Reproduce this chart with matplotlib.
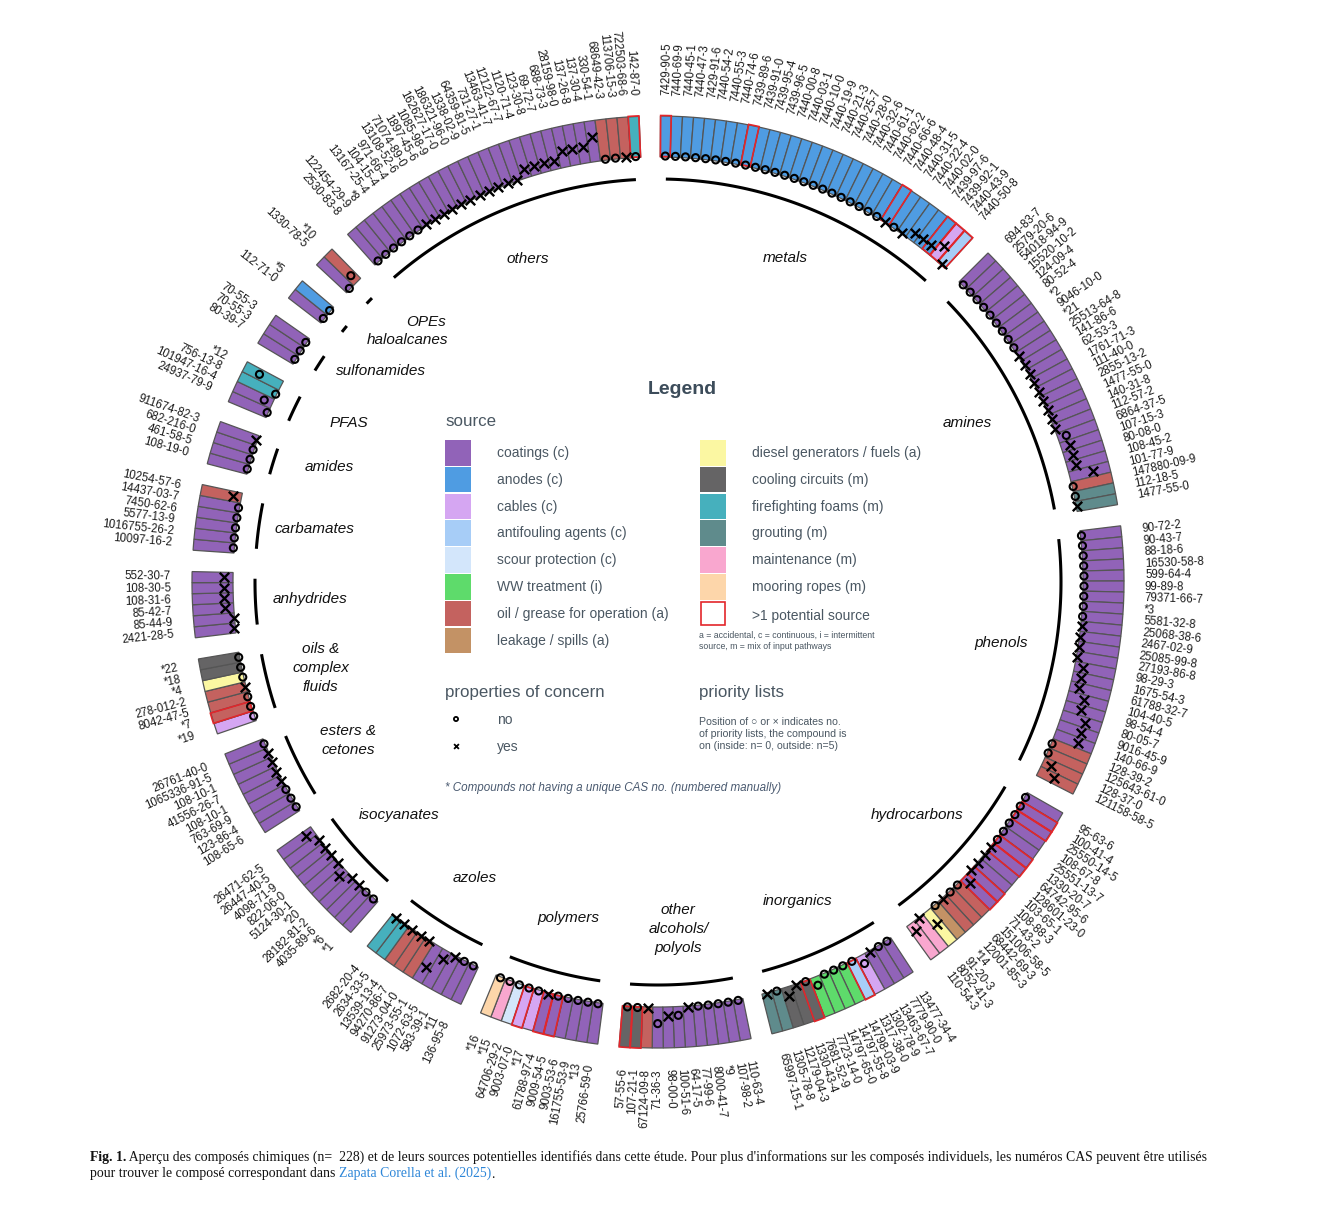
import numpy as np
import matplotlib
matplotlib.use("Agg")
import matplotlib.pyplot as plt
from matplotlib.patches import Rectangle

W, H = 1319, 1207

# ---------------- data (clockwise, starting at the top) ----------------
# source codes: C coatings, A anodes, B cables, F antifouling, S scour protection,
# W WW treatment, O oil/grease, L leakage, D diesel, K cooling circuits,
# P firefighting foams, G grouting, M maintenance, R mooring ropes
# red: 1 = >1 potential source; poc: o = no / x = yes; prio: no. of priority lists

metals_cas = ["7429-90-5", "7440-69-9", "7440-45-1", "7440-47-3", "7429-91-6", "7440-54-2",
              "7440-55-3", "7440-74-6", "7439-89-6", "7439-91-0", "7439-95-4", "7439-96-5",
              "7440-00-8", "7440-03-1", "7440-10-0", "7440-19-9", "7440-21-3", "7440-25-7",
              "7440-28-0", "7440-32-6", "7440-61-1", "7440-62-2", "7440-66-6", "7440-48-4",
              "7440-31-5", "7440-22-4", "7440-02-0", "7439-97-6", "7439-92-1", "7440-43-9",
              "7440-50-8"]
metals_src = "AAAAA AAAAA AAAAA AAAAA AAAAA AAAAB F"
metals_red = "10000 00010 00000 00000 00010 00011 1"
metals_poc = "ooooo ooooo ooooo ooooo oooxo xxxxx x"
metals_prio = "00000 00000 00000 00000 00000 01112 0"

amines_cas = ["694-83-7", "2579-20-6", "54018-94-9", "15520-10-2", "124-09-4", "80-52-4", "*2",
              "9046-10-0", "*21", "25513-64-8", "141-86-6", "62-53-3", "1761-71-3", "111-40-0",
              "2855-13-2", "1477-55-0", "140-31-8", "112-57-2", "6864-37-5", "107-15-3",
              "80-08-0", "108-45-2", "101-77-9", "147880-09-9", "112-18-5", "1477-55-0"]
amines_src = "CCCCC CCCCC CCCCC CCCCC CCCOG G"
amines_red = "00000 00000 00000 00000 00000 0"
amines_poc = "ooooo oooox xxxxx xxxox xxxoo x"
amines_prio = "00000 00000 00000 00011 11300 0"

phenols_cas = ["90-72-2", "90-43-7", "88-18-6", "16530-58-8", "599-64-4", "99-89-8",
               "79371-66-7", "*3", "5581-32-8", "25068-38-6", "2467-02-9", "25085-99-8",
               "27193-86-8", "98-29-3", "1675-54-3", "61788-32-7", "104-40-5", "98-54-4",
               "80-05-7", "9016-45-9", "140-66-9", "128-39-2", "125643-61-0", "128-37-0",
               "121158-58-5"]
phenols_src = "CCCCC CCCCC CCCCC CCCCC COOOO"
phenols_red = "00000 00000 00000 00000 00000"
phenols_poc = "ooooo oooox xxxxx xxxxx xooxx"
phenols_prio = "00000 00000 00011 12233 30012"

hydro_cas = ["95-63-6", "100-41-4", "25550-14-5", "108-67-8", "25551-13-7", "1330-20-7",
             "64742-95-6", "128601-23-0", "103-65-1", "108-88-3", "71-43-2", "151006-58-5",
             "68442-69-3", "12001-85-3", "*14", "91-20-3", "8052-41-3", "110-54-3"]
hydro_src = "CCCCC CCCCC COOOL DMM"
hydro_red = "01100 11001 10000 000"
hydro_poc = "ooooo oxxxx xooxo xxx"
hydro_prio = "00000 00000 10000 201"

inorg_cas = ["13477-34-4", "7779-90-0", "13463-67-7", "1302-78-9", "1317-38-0", "14798-03-9",
             "14797-55-8", "14797-65-0", "7723-14-0", "7681-52-9", "1330-43-4", "12179-04-3",
             "1305-78-8", "65997-15-1"]
inorg_src = "CCCBF WWWWK KKGG"
inorg_red = "00001 00001 0000"
inorg_poc = "ooxoo ooooo xxox"
inorg_prio = "00010 00010 0100"

alc_cas = ["110-63-4", "107-98-2", "*9", "8000-41-7", "77-99-6", "64-17-5", "100-51-6",
           "98-00-0", "71-36-3", "67124-09-8", "107-21-1", "57-55-6"]
alc_src = "CCCCC CCCCO KK"
alc_red = "00000 00000 11"
alc_poc = "ooooo xoxox oo"
alc_prio = "00000 01120 00"

poly_cas = ["25766-59-0", "*13", "161755-53-9", "9003-53-6", "9009-54-5", "61788-97-4", "*17",
            "9003-07-0", "64706-29-2", "*15", "*16"]
poly_src = "CCCCC CBBSM R"
poly_red = "00001 10100 0"
poly_poc = "ooooo xoooo o"
poly_prio = "00000 00000 0"

azole_cas = ["136-95-8", "*11", "583-39-1", "1072-63-5", "25973-55-1", "91273-04-0",
             "94270-86-7", "13539-13-4", "2634-33-5", "2682-20-4"]
azole_src = "CCCCC OOOPP"
azole_red = "00000 00000"
azole_poc = "ooxxx xxxxx"
azole_prio = "00013 00000"

iso_cas = ["*1", "*6", "4035-89-6", "28182-81-2", "*20", "5124-30-1", "822-06-0", "4098-71-9",
           "26447-40-5", "26471-62-5"]
iso_src = "CCCCC CCCCC"
iso_red = "00000 00000"
iso_poc = "ooxxx xxxxx"
iso_prio = "00001 00001"

ester_cas = ["108-65-6", "123-86-4", "763-69-9", "108-10-1", "41556-26-7", "108-10-1",
             "1065336-91-5", "26761-40-0"]
ester_src = "CCCCC CCC"
ester_red = "00000 000"
ester_poc = "oooxx xxo"
ester_prio = "00000 000"

oils_cas = ["*19", "*7", "8042-47-5", "278-012-2", "*4", "*18", "*22"]
oils_src = "BOOOD KK"
oils_red = "01000 00"
oils_poc = "oooxo oo"
oils_prio = "00000 00"

anh_cas = ["2421-28-5", "85-44-9", "85-42-7", "108-31-6", "108-30-5", "552-30-7"]
anh_src = "CCCCC C"
anh_red = "00000 0"
anh_poc = "xxxxx x"
anh_prio = "00111 1"

carb_cas = ["10097-16-2", "1016755-26-2", "5577-13-9", "7450-62-6", "14437-03-7", "10254-57-6"]
carb_src = "CCCCC O"
carb_red = "00000 0"
carb_poc = "ooooo x"
carb_prio = "00000 1"

amide_cas = ["108-19-0", "461-58-5", "682-216-0", "911674-82-3"]
amide_src = "CCCC"
amide_red = "0000"
amide_poc = "ooox"
amide_prio = "0000"

pfas_cas = ["24937-79-9", "101947-16-4", "756-13-8", "*12"]
pfas_src = "CCPP"
pfas_red = "0000"
pfas_poc = "oooo"
pfas_prio = "0103"

sulf_cas = ["80-39-7", "70-55-3", "70-55-3"]
sulf_src = "CCC"
sulf_red = "000"
sulf_poc = "ooo"
sulf_prio = "000"

halo_cas = ["112-71-0", "*5"]
halo_src = "CA"
halo_red = "00"
halo_poc = "oo"
halo_prio = "00"

ope_cas = ["1330-78-5", "*10"]
ope_src = "CO"
ope_red = "00"
ope_poc = "oo"
ope_prio = "01"

others_cas = ["2530-83-8", "122454-29-9", "*8", "13167-25-4", "104-15-4", "971-66-4",
              "13108-52-6", "71074-89-0", "1897-45-6", "1085-98-9", "162627-17-0",
              "186321-96-0", "1338-02-9", "64359-81-5", "731-27-1", "13463-41-7",
              "12122-67-7", "1120-71-4", "123-30-8", "69-72-7", "688-73-3", "28159-98-0",
              "137-26-8", "137-30-4", "330-54-1", "68649-42-3", "113706-15-3",
              "722503-68-6", "142-87-0"]
others_src = "CCCCC CCCCC CCCCC CCCCC CCCCC OOOP"
others_red = "00000 00000 00000 00000 00000 0001"
others_poc = "ooooo oxxxx xxxxx xxxxx xxxxx ooxo"
others_prio = "00000 00000 00000 00111 12223 0000"

group_names = ["metals", "amines", "phenols", "hydrocarbons", "inorganics",
               "other\nalcohols/\npolyols", "polymers", "azoles", "isocyanates",
               "esters &\ncetones", "oils &\ncomplex\nfluids", "anhydrides", "carbamates",
               "amides", "PFAS", "sulfonamides", "haloalcanes", "OPEs", "others"]

source_codes = ["C", "A", "B", "F", "S", "W", "O", "L", "D", "K", "P", "G", "M", "R"]
source_labels = ["coatings (c)", "anodes (c)", "cables (c)", "antifouling agents (c)",
                 "scour protection (c)", "WW treatment (i)", "oil / grease for operation (a)",
                 "leakage / spills (a)", "diesel generators / fuels (a)", "cooling circuits (m)",
                 "firefighting foams (m)", "grouting (m)", "maintenance (m)", "mooring ropes (m)"]
source_colors = ["#9163b8", "#4f9ce2", "#d5a6f2", "#a7cdf7", "#d3e6fb", "#5edb6b", "#c4625f",
                 "#c39265", "#fbf7a2", "#656465", "#46b0bd", "#5f8b8c", "#f9a7cf", "#fdd6aa"]

# ---------------- layout / style ----------------
CX, CY = 658, 582          # ring centre, pixels from top-left
RMAX = 560
R_IN, R_OUT = 425, 466
R_ARC, R_GROUP, R_LAB = 403, 348, 487
DELTA = 1.36               # degrees per compound
START = 0.3
LABEL_SHIFT = {"carbamates": 0.7, "amides": 1.8, "PFAS": 1.7, "sulfonamides": 4.4,
               "haloalcanes": 5.1, "OPEs": 4.0}
TEXT_C = "#4a5762"
SANS = ["Liberation Sans", "DejaVu Sans"]


def chars(s):
    return list(s.replace(" ", ""))


def build_table():
    raw = [
        (metals_cas, metals_src, metals_red, metals_poc, metals_prio),
        (amines_cas, amines_src, amines_red, amines_poc, amines_prio),
        (phenols_cas, phenols_src, phenols_red, phenols_poc, phenols_prio),
        (hydro_cas, hydro_src, hydro_red, hydro_poc, hydro_prio),
        (inorg_cas, inorg_src, inorg_red, inorg_poc, inorg_prio),
        (alc_cas, alc_src, alc_red, alc_poc, alc_prio),
        (poly_cas, poly_src, poly_red, poly_poc, poly_prio),
        (azole_cas, azole_src, azole_red, azole_poc, azole_prio),
        (iso_cas, iso_src, iso_red, iso_poc, iso_prio),
        (ester_cas, ester_src, ester_red, ester_poc, ester_prio),
        (oils_cas, oils_src, oils_red, oils_poc, oils_prio),
        (anh_cas, anh_src, anh_red, anh_poc, anh_prio),
        (carb_cas, carb_src, carb_red, carb_poc, carb_prio),
        (amide_cas, amide_src, amide_red, amide_poc, amide_prio),
        (pfas_cas, pfas_src, pfas_red, pfas_poc, pfas_prio),
        (sulf_cas, sulf_src, sulf_red, sulf_poc, sulf_prio),
        (halo_cas, halo_src, halo_red, halo_poc, halo_prio),
        (ope_cas, ope_src, ope_red, ope_poc, ope_prio),
        (others_cas, others_src, others_red, others_poc, others_prio),
    ]
    table = []
    for name, (cas, src, red, poc, prio) in zip(group_names, raw):
        src, red, poc, prio = chars(src), chars(red), chars(poc), chars(prio)
        assert len(cas) == len(src) == len(red) == len(poc) == len(prio), name
        table.append(dict(name=name, cas=cas, src=src, red=[r == "1" for r in red],
                          poc=poc, prio=[int(p) for p in prio]))
    return table


def draw_ring(ax, table):
    color_of = dict(zip(source_codes, source_colors))
    n_total = sum(len(g["cas"]) for g in table)
    gap = (360 - n_total * DELTA) / len(table)
    step = np.deg2rad(DELTA)

    pos = START
    for g in table:
        n = len(g["cas"])
        th_deg = pos + (np.arange(n) + 0.5) * DELTA
        th = np.deg2rad(th_deg)
        cols = [color_of[s] for s in g["src"]]
        ax.bar(th, R_OUT - R_IN, width=step, bottom=R_IN, color=cols,
               edgecolor="#555555", linewidth=0.9, align="center", zorder=2)
        red = np.array(g["red"])
        if red.any():
            ax.bar(th[red], R_OUT - R_IN, width=step * 0.96, bottom=R_IN + 0.5,
                   fill=False, edgecolor="#e3262b", linewidth=1.2, align="center", zorder=3)

        poc = np.array(g["poc"])
        r_mark = R_IN + 1 + np.array(g["prio"]) * 7.8
        o = poc == "o"
        ax.scatter(th[o], r_mark[o], s=26, facecolors="none", edgecolors="black",
                   linewidths=1.5, zorder=5)
        ax.scatter(th[~o], r_mark[~o], s=46, marker="x", c="black", linewidths=1.7, zorder=5)

        # group arc
        a = np.deg2rad(np.linspace(pos + 0.6 * DELTA, pos + (n - 0.6) * DELTA, 60))
        ax.plot(a, np.full_like(a, R_ARC), color="black", lw=2.2, solid_capstyle="butt")

        # group label
        mid = pos + n * DELTA / 2 + LABEL_SHIFT.get(g["name"], 0)
        ax.text(np.deg2rad(mid), R_GROUP, g["name"], ha="center", va="center",
                fontsize=11, fontstyle="italic", family=SANS, color="#111111",
                linespacing=1.45)

        # CAS labels
        for t, lab in zip(th_deg, g["cas"]):
            tt = t % 360
            if tt < 180:
                rot, ha = 90 - tt, "left"
            else:
                rot, ha = 270 - tt, "right"
            ax.text(np.deg2rad(t), R_LAB, lab, rotation=rot, rotation_mode="anchor",
                    ha=ha, va="center", fontsize=8.3, family=SANS, color="#1a1a1a")
        pos += n * DELTA + gap


def draw_legend(lax):
    lax.text(682, 389, "Legend", ha="center", va="center", fontsize=14, fontweight="bold",
             family=SANS, color="#3c4c5a")
    lax.text(445, 422, "source", ha="left", va="center", fontsize=12.2, family=SANS, color=TEXT_C)
    row_h = 26.8
    for i, (lab, col) in enumerate(zip(source_labels, source_colors)):
        col_i, row = divmod(i, 8)
        x0 = 445 if col_i == 0 else 700
        y0 = 440 + row * row_h
        lax.add_patch(Rectangle((x0, y0), 26, 25.5, facecolor=col, edgecolor="none"))
        lax.text(x0 + 52, y0 + 13, lab, ha="left", va="center", fontsize=10,
                 family=SANS, color=TEXT_C)
    # >1 potential source
    y0 = 440 + 6 * row_h
    lax.add_patch(Rectangle((701, y0 + 1), 24, 23.5, facecolor="white",
                            edgecolor="#e3262b", linewidth=1.2))
    lax.text(752, y0 + 15, ">1 potential source", ha="left", va="center", fontsize=10,
             family=SANS, color=TEXT_C)
    lax.text(699, 641, "a = accidental, c = continuous, i = intermittent\n"
             "source, m = mix of input pathways", ha="left", va="center", fontsize=6.3,
             family=SANS, color=TEXT_C, linespacing=1.25)

    lax.text(445, 692, "properties of concern", ha="left", va="center", fontsize=12.2,
             family=SANS, color=TEXT_C)
    lax.scatter([456], [719], s=9, facecolors="none", edgecolors="black", linewidths=1.3)
    lax.scatter([456], [746], s=12, marker="x", c="black", linewidths=1.3)
    lax.text(497, 720, "no", ha="left", va="center", fontsize=10, family=SANS, color=TEXT_C)
    lax.text(497, 747, "yes", ha="left", va="center", fontsize=10, family=SANS, color=TEXT_C)

    lax.text(699, 692, "priority lists", ha="left", va="center", fontsize=12.2,
             family=SANS, color=TEXT_C)
    lax.text(699, 734, "Position of \u25cb or \u00d7 indicates no.\n"
             "of priority lists, the compound is\n"
             "on (inside: n= 0, outside: n=5)", ha="left", va="center", fontsize=7.6,
             family=SANS, color=TEXT_C, linespacing=1.3)
    lax.text(445, 788, "* Compounds not having a unique CAS no. (numbered manually)",
             ha="left", va="center", fontsize=8.4, fontstyle="italic", family=SANS,
             color="#4a5a70")


def draw_caption(lax):
    serif = ["Liberation Serif", "DejaVu Serif"]
    fs = 9.9
    t1 = lax.text(90, 1157, "Fig. 1.", ha="left", va="center", fontsize=fs,
                  fontweight="bold", family=serif, color="#111111")
    lax.annotate(" Aper\u00e7u des compos\u00e9s chimiques (n=  228) et de leurs sources "
                 "potentielles identifi\u00e9s dans cette \u00e9tude. Pour plus d'informations "
                 "sur les compos\u00e9s individuels, les num\u00e9ros CAS peuvent \u00eatre utilis\u00e9s",
                 xy=(1, 0), xycoords=t1, ha="left", va="bottom", fontsize=fs,
                 family=serif, color="#111111")
    t3 = lax.text(90, 1174, "pour trouver le compos\u00e9 correspondant dans ", ha="left",
                  va="center", fontsize=fs, family=serif, color="#111111")
    t4 = lax.annotate("Zapata Corella et al. (2025)", xy=(1, 0), xycoords=t3, ha="left",
                      va="bottom", fontsize=fs, family=serif, color="#2d86d8")
    lax.annotate(".", xy=(1, 0), xycoords=t4, ha="left", va="bottom", fontsize=fs,
                 family=serif, color="#111111")


def main():
    table = build_table()
    fig = plt.figure(figsize=(W / 100, H / 100), dpi=100)
    fig.patch.set_facecolor("white")

    lax = fig.add_axes([0, 0, 1, 1])
    lax.set_xlim(0, W)
    lax.set_ylim(H, 0)
    lax.axis("off")

    ax = fig.add_axes([(CX - RMAX) / W, (H - CY - RMAX) / H, 2 * RMAX / W, 2 * RMAX / H],
                      projection="polar")
    ax.set_theta_zero_location("N")
    ax.set_theta_direction(-1)
    ax.set_ylim(0, RMAX)
    ax.axis("off")

    draw_ring(ax, table)
    draw_legend(lax)
    draw_caption(lax)

    fig.savefig("out.png", dpi=100, facecolor="white")
    plt.close(fig)


if __name__ == "__main__":
    main()
